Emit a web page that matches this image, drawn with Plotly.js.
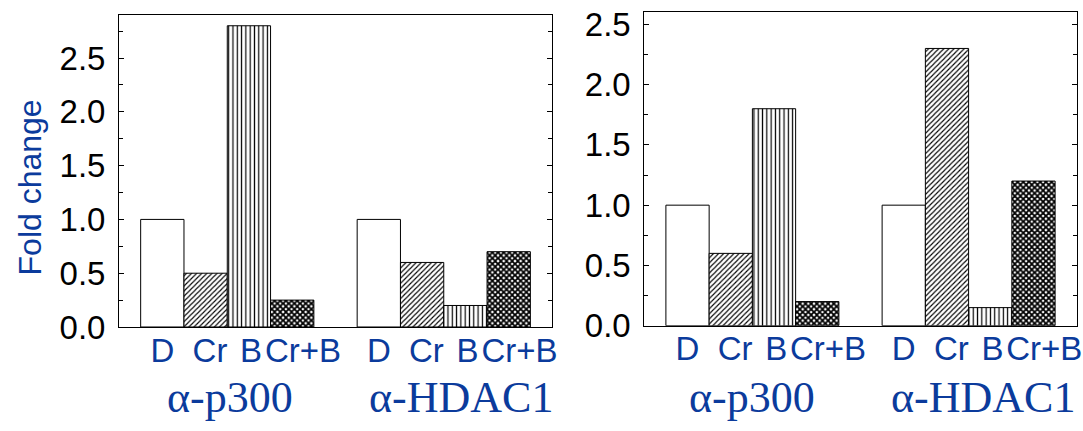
<!DOCTYPE html>
<html>
<head>
<meta charset="utf-8">
<script src="https://cdn.plot.ly/plotly-3.0.1.min.js"></script>
<style>
  html, body { margin: 0; padding: 0; background: #fff; }
  #chart { width: 1083px; height: 431px; }
</style>
</head>
<body>
<div id="chart"></div>
<script>
// Antibody groups and treatments
const groups = ['α-p300', 'α-HDAC1'];
const treatments = ['D', 'Cr', 'B', 'Cr+B'];

// Fold change, left panel
const leftP300 = [1.0, 0.5, 2.8, 0.25];
const leftHDAC1 = [1.0, 0.6, 0.2, 0.7];

// Fold change, right panel
const rightP300 = [1.0, 0.6, 1.8, 0.2];
const rightHDAC1 = [1.0, 2.3, 0.15, 1.2];

const yTitle = 'Fold change';

const BLUE = '#0b3b9c';
const SANS = 'Liberation Sans, Arial, sans-serif';
const SERIF = 'Liberation Serif, Times New Roman, serif';

// fill style per treatment
const fills = [
  { shape: '',  size: 4,   solidity: 0.3 },
  { shape: '/', size: 3.6, solidity: 0.32 },
  { shape: '|', size: 4.3, solidity: 0.28 },
  { shape: 'x', size: 4,   solidity: 0.7 }
];

// bar position: groups are 5 slots apart, each bar one slot wide
const barX = (g, t) => g * 5 + t + 1;

function panelTraces(seriesByGroup, xa, ya) {
  return treatments.map((name, t) => ({
    type: 'bar',
    name: name,
    x: seriesByGroup.map((_, g) => barX(g, t)),
    y: seriesByGroup.map(s => s[t]),
    width: 1,
    xaxis: xa,
    yaxis: ya,
    showlegend: false,
    hoverinfo: 'skip',
    marker: {
      color: 'white',
      line: { color: 'black', width: 1 },
      pattern: {
        shape: fills[t].shape,
        size: fills[t].size,
        solidity: fills[t].solidity,
        fgcolor: 'black',
        bgcolor: 'white',
        fillmode: 'replace'
      }
    }
  }));
}

const data = [
  ...panelTraces([leftP300, leftHDAC1], 'x', 'y'),
  ...panelTraces([rightP300, rightHDAC1], 'x2', 'y2')
];

// treatment labels sit slightly right of bar centres so the wide "Cr+B" clears "B"
const labelNudge = [0, 0.1, 0.05, 0.25];
const tickVals = [], tickText = [];
groups.forEach((_, g) => treatments.forEach((name, t) => {
  tickVals.push(barX(g, t) + labelNudge[t]);
  tickText.push(name);
}));

function xAxis(domain, anchor) {
  return {
    domain: domain, anchor: anchor,
    range: [0, 10],
    showline: true, linecolor: 'black', linewidth: 1, mirror: true,
    showgrid: false, zeroline: false,
    ticks: '',
    tickmode: 'array', tickvals: tickVals, ticktext: tickText,
    tickfont: { family: SANS, size: 33, color: BLUE },
    ticklabelstandoff: -6,
    fixedrange: true
  };
}

function yAxis(domain, anchor, top) {
  return {
    domain: domain, anchor: anchor,
    range: [0, top],
    showline: true, linecolor: 'black', linewidth: 1, mirror: 'allticks',
    showgrid: false, zeroline: false,
    ticks: 'inside', ticklen: 5, tickcolor: 'black',
    dtick: 0.5, tick0: 0, tickformat: '.1f',
    tickfont: { family: SANS, size: 33, color: 'black' },
    ticklabelstandoff: 6,
    minor: { dtick: 0.25, ticks: 'inside', ticklen: 4, tickcolor: 'black', showgrid: false },
    fixedrange: true
  };
}

const groupLabel = (text, xref, x) => ({
  text: text, xref: xref, x: x, yref: 'paper', y: 0.016,
  xanchor: 'center', yanchor: 'bottom', showarrow: false,
  font: { family: SERIF, size: 44, color: BLUE }
});

const layout = {
  width: 1083, height: 431,
  margin: { l: 0, r: 0, t: 0, b: 0 },
  paper_bgcolor: 'white', plot_bgcolor: 'white',
  barmode: 'overlay',
  xaxis: xAxis([0.1099, 0.5097], 'y'),
  yaxis: yAxis([0.2413, 0.9652], 'x', 2.9),
  xaxis2: xAxis([0.5949, 0.9942], 'y2'),
  yaxis2: yAxis([0.2443, 0.9715], 'x2', 2.6),
  annotations: [
    {
      text: yTitle, xref: 'paper', yref: 'paper', x: 0.0286, y: 0.565,
      xanchor: 'center', yanchor: 'middle', textangle: -90, showarrow: false,
      font: { family: SANS, size: 32, color: BLUE }
    },
    groupLabel(groups[0], 'x', 2.57),
    groupLabel(groups[1], 'x', 7.9),
    groupLabel(groups[0], 'x2', 2.5),
    groupLabel(groups[1], 'x2', 7.84)
  ]
};

Plotly.newPlot('chart', data, layout, { staticPlot: true, displayModeBar: false });
</script>
</body>
</html>
